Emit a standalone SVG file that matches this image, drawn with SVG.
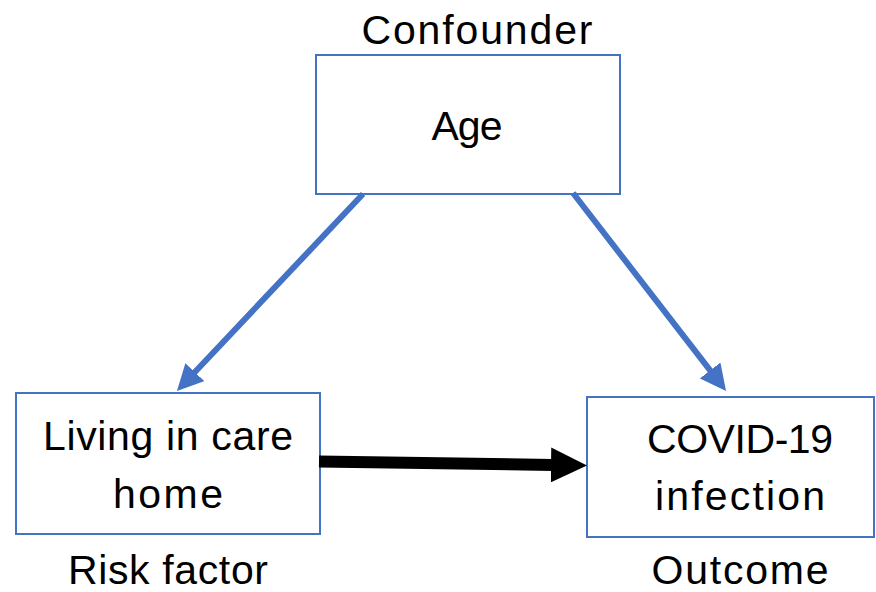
<svg xmlns="http://www.w3.org/2000/svg" width="876" height="592" viewBox="0 0 876 592">
<style>
.box{fill:#fff;stroke:#4472C4;stroke-width:2}
.t{font-family:"Liberation Sans",Arial,sans-serif;font-size:41px;fill:#000;text-anchor:middle}
.blue{stroke:#4472C4;stroke-width:6;fill:none}
.black{stroke:#000;stroke-width:12;fill:none}
</style>
<defs>
<marker id="ab" markerUnits="userSpaceOnUse" viewBox="0 0 26 26" refX="6" refY="13" markerWidth="26" markerHeight="26" orient="auto"><path d="M0,0 L26,13 L0,26 z" fill="#4472C4"/></marker>
<marker id="ak" markerUnits="userSpaceOnUse" viewBox="0 0 36 35" refX="2" refY="17.5" markerWidth="36" markerHeight="35" orient="auto"><path d="M0,0 L36,17.5 L0,35 z" fill="#000"/></marker>
</defs>
<rect width="876" height="592" fill="#fff"/>
<g id="age">
<rect class="box" x="316" y="55" width="304" height="139"/>
<text class="t" x="467" y="140" textLength="71">Age</text>
<text class="t" x="477" y="44" textLength="231">Confounder</text>
</g>
<g id="care">
<rect class="box" x="16" y="393" width="304" height="141"/>
<text class="t" x="168" y="450" textLength="250">Living in care</text>
<text class="t" x="168" y="508" textLength="110">home</text>
<text class="t" x="168" y="584" textLength="200">Risk factor</text>
</g>
<g id="covid">
<rect class="box" x="587" y="397" width="287" height="140"/>
<text class="t" x="740" y="453" textLength="186">COVID-19</text>
<text class="t" x="740" y="510" textLength="170">infection</text>
<text class="t" x="740" y="584" textLength="177">Outcome</text>
</g>
<g id="connectors">
<path class="blue" d="M363,194 L190.7,376.5" marker-end="url(#ab)"/>
<path class="blue" d="M573,193 L713.8,375.2" marker-end="url(#ab)"/>
<path class="black" d="M319,461.5 L553,465" marker-end="url(#ak)"/>
</g>
</svg>
